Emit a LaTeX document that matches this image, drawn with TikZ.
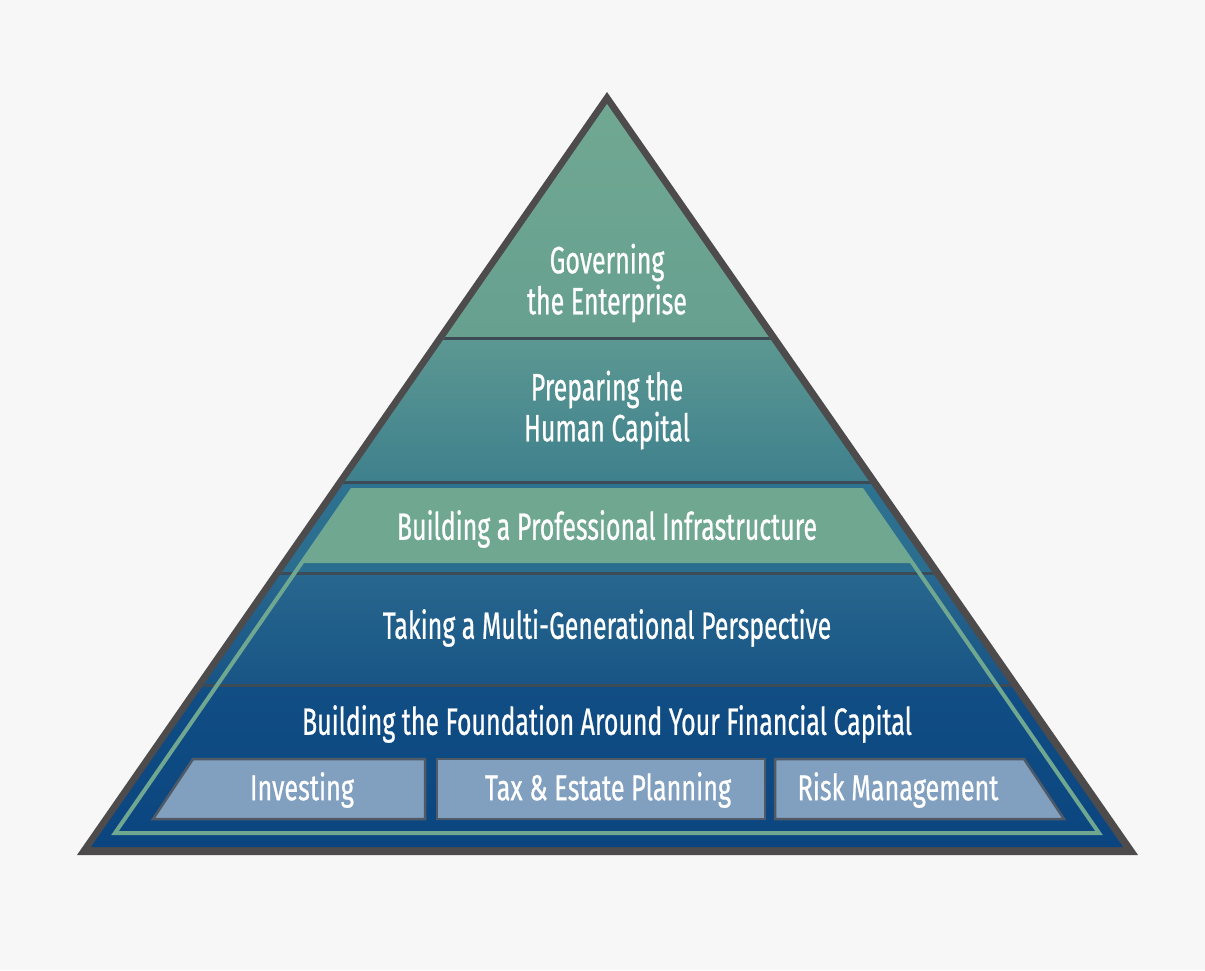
\documentclass[tikz,border=0pt]{standalone}
\usepackage{fontspec}
\newfontfamily\pyrfont[FakeStretch=0.655,FakeBold=0.6]{Fira Sans}
\newfontfamily\boxfont[FakeStretch=0.70,FakeBold=0.6]{Fira Sans}
\definecolor{bgc}{HTML}{F7F7F7}
\definecolor{rimc}{HTML}{4D4B4C}
\definecolor{divc}{HTML}{3C4B55}
\definecolor{greenc}{HTML}{6FA791}
\definecolor{boxc}{HTML}{819FBF}
\definecolor{boxline}{HTML}{4F5A66}
\tikzset{
  lbl/.style={text=white, font=\pyrfont\fontsize{38}{41}\selectfont, align=center, inner sep=0pt},
  boxlbl/.style={text=white, font=\boxfont\fontsize{36}{40}\selectfont, inner sep=0pt},
  divider/.style={draw=divc, line width=3pt},
  tierbox/.style={fill=boxc, draw=boxline, line width=2.5pt, line join=miter},
}
\begin{document}
\begin{tikzpicture}[x=1pt,y=-1pt]
\fill[bgc] (0,0) rectangle (1205,970);
\useasboundingbox (0,0) rectangle (1205,970);
% outer rim
\fill[rimc] (607,92) -- (1138,855) -- (77,855) -- cycle;
% inner fill with bands
\begin{scope}
\clip (607,104) -- (1123,847) -- (91,847) -- cycle;
\shade[top color={rgb,255:red,112;green,168;blue,147}, bottom color={rgb,255:red,103;green,160;blue,143}] (0,90) rectangle (1205,338);
\shade[top color={rgb,255:red,92;green,152;blue,146}, bottom color={rgb,255:red,62;green,128;blue,141}] (0,338) rectangle (1205,482);
\shade[top color={rgb,255:red,46;green,114;blue,145}, bottom color={rgb,255:red,42;green,109;blue,143}] (0,482) rectangle (1205,573);
\shade[top color={rgb,255:red,40;green,103;blue,142}, bottom color={rgb,255:red,24;green,85;blue,134}] (0,573) rectangle (1205,685);
\shade[top color={rgb,255:red,17;green,78;blue,132}, bottom color={rgb,255:red,11;green,69;blue,128}] (0,685) rectangle (1205,850);
\draw[divider] (0,338) -- (1205,338);
\draw[divider] (0,482) -- (1205,482);
\draw[divider] (0,573) -- (1205,573);
\draw[divider] (0,685) -- (1205,685);
\end{scope}
% green band and frame
\fill[greenc] (352,490) -- (862,490) -- (912,563) -- (302,563) -- cycle;
\draw[greenc, line width=4pt, line join=miter] (352,490) -- (862,490) -- (1099,833) -- (115,833) -- cycle;
% bottom boxes
\draw[tierbox] (193,759) -- (425,759) -- (425,819) -- (153,819) -- cycle;
\draw[tierbox] (437,759) rectangle (765,819);
\draw[tierbox] (775,759) -- (1024,759) -- (1064,819) -- (775,819) -- cycle;
% labels
\node[lbl] (gov) at (607,283) {Governing\\the Enterprise};
\node[lbl] (prep) at (607,410) {Preparing the\\Human Capital};
\node[lbl] (infra) at (607,529) {Building a Professional Infrastructure};
\node[lbl] (multi) at (607,628) {Taking a Multi-Generational Perspective};
\node[lbl] (found) at (607,724) {Building the Foundation Around Your Financial Capital};
\node[boxlbl] (inv) at (302,790) {Investing};
\node[boxlbl] (tax) at (608,790) {Tax \& Estate Planning};
\node[boxlbl] (risk) at (898,790) {Risk Management};
\end{tikzpicture}
\end{document}
